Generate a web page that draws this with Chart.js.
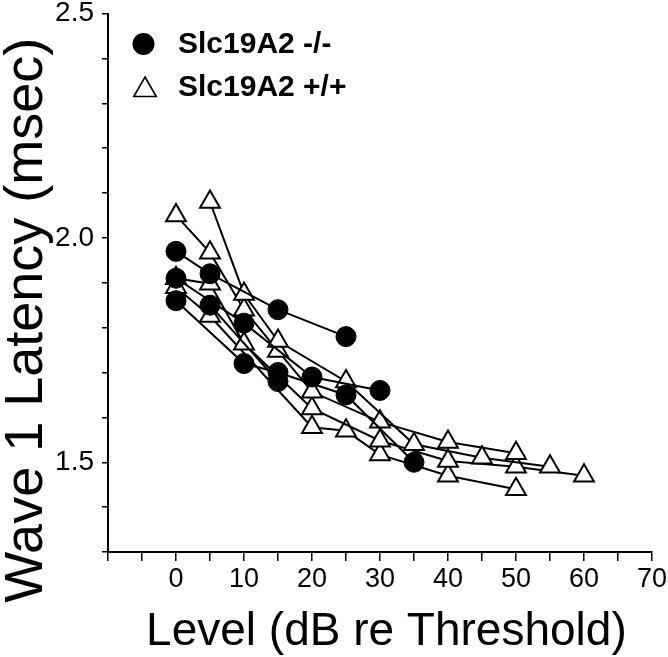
<!DOCTYPE html>
<html>
<head>
<meta charset="utf-8">
<script src="https://cdn.jsdelivr.net/npm/chart.js@4.4.1/dist/chart.umd.min.js"></script>
<style>
  html, body { margin: 0; padding: 0; background: #fff; overflow: hidden; }
  #wrap { width: 668px; height: 657px; position: relative; }
</style>
</head>
<body>
<div id="wrap"><canvas id="c"></canvas></div>
<script>
// ---- Data ----
const seriesLabels = ['Slc19A2 -/-', 'Slc19A2 +/+'];

// Slc19A2 -/- (filled circles), one line per animal
const koLevels1 = [0, 5, 15, 25];
const koLatency1 = [1.97, 1.92, 1.84, 1.78];
const koLevels2 = [0, 10, 20, 30];
const koLatency2 = [1.91, 1.81, 1.69, 1.66];
const koLevels3 = [0, 10, 15, 25, 35];
const koLatency3 = [1.86, 1.72, 1.70, 1.65, 1.50];
const koLevels4 = [5, 15];
const koLatency4 = [1.85, 1.68];

// Slc19A2 +/+ (open triangles), one line per animal
const wtLevels1 = [5, 10, 15, 25, 35, 45, 55];
const wtLatency1 = [2.08, 1.875, 1.77, 1.68, 1.54, 1.51, 1.49];
const wtLevels2 = [0, 5, 10, 15, 20, 30, 40, 50];
const wtLatency2 = [2.05, 1.967, 1.84, 1.748, 1.657, 1.59, 1.545, 1.52];
const wtLevels3 = [0, 5, 10, 20, 30, 40, 50, 60];
const wtLatency3 = [1.91, 1.898, 1.764, 1.62, 1.548, 1.503, 1.49, 1.47];
const wtLevels4 = [0, 5, 20, 25, 30, 40, 50];
const wtLatency4 = [1.89, 1.826, 1.578, 1.57, 1.517, 1.47, 1.44];

// Axis text
const xTitle = 'Level (dB re Threshold)';
const yTitle = 'Wave 1 Latency (msec)';
const xTickLabels = ['0', '10', '20', '30', '40', '50', '60', '70'];
const yTickLabels = ['1.5', '2.0', '2.5'];

// ---- Build datasets ----
function pts(xs, ys) { return xs.map((x, i) => ({ x: x, y: ys[i] })); }

const koSets = [
  [koLevels1, koLatency1], [koLevels2, koLatency2],
  [koLevels3, koLatency3], [koLevels4, koLatency4]
];
const wtSets = [
  [wtLevels1, wtLatency1], [wtLevels2, wtLatency2],
  [wtLevels3, wtLatency3], [wtLevels4, wtLatency4]
];

const datasets = [];
koSets.forEach(([xs, ys]) => datasets.push({
  label: seriesLabels[0],
  data: pts(xs, ys),
  showLine: true,
  borderColor: '#000',
  borderWidth: 2,
  pointStyle: 'circle',
  pointRadius: 10,
  pointHoverRadius: 10,
  pointBackgroundColor: '#000',
  pointBorderColor: '#000',
  pointBorderWidth: 1,
  fill: false
}));
wtSets.forEach(([xs, ys]) => datasets.push({
  label: seriesLabels[1],
  data: pts(xs, ys),
  showLine: true,
  borderColor: '#000',
  borderWidth: 2,
  pointStyle: 'triangle',
  pointRadius: 11.5,
  pointHoverRadius: 11.5,
  pointBackgroundColor: '#fff',
  pointBorderColor: '#000',
  pointBorderWidth: 2,
  fill: false
}));

// ---- Custom legend drawn in the upper-left of the plot ----
const legendPlugin = {
  id: 'cornerLegend',
  afterDraw(chart) {
    const ctx = chart.ctx;
    ctx.save();
    // filled circle
    ctx.beginPath();
    ctx.arc(143.5, 44, 11, 0, Math.PI * 2);
    ctx.fillStyle = '#000';
    ctx.fill();
    // open triangle
    const cx = 145, cy = 90, r = 13;
    ctx.beginPath();
    for (let k = 0; k < 3; k++) {
      const a = k * 2 * Math.PI / 3;
      const px = cx + Math.sin(a) * r, py = cy - Math.cos(a) * r;
      if (k === 0) ctx.moveTo(px, py); else ctx.lineTo(px, py);
    }
    ctx.closePath();
    ctx.fillStyle = '#fff';
    ctx.fill();
    ctx.lineWidth = 1.6;
    ctx.strokeStyle = '#000';
    ctx.stroke();
    // labels
    ctx.fillStyle = '#000';
    ctx.font = 'bold 30px "Liberation Sans", Arial, sans-serif';
    ctx.textBaseline = 'middle';
    ctx.textAlign = 'left';
    ctx.fillText(seriesLabels[0], 178, 45);
    ctx.fillText(seriesLabels[1], 178, 88);
    ctx.restore();
  }
};

const FONT = '"Liberation Sans", Arial, Helvetica, sans-serif';

function zeroPad(s) { s.paddingTop = 0; s.paddingBottom = 0; s.paddingLeft = 0; s.paddingRight = 0; }

new Chart(document.getElementById('c'), {
  type: 'scatter',
  data: { datasets: datasets },
  plugins: [legendPlugin],
  options: {
    responsive: true,
    maintainAspectRatio: false,
    animation: false,
    layout: { padding: { top: 12, right: 16, left: 0, bottom: 0 } },
    plugins: {
      legend: { display: false },
      tooltip: { enabled: false }
    },
    scales: {
      x: {
        type: 'linear',
        min: -10, max: 70,
        border: { display: true, color: '#000', width: 2 },
        grid: { display: true, drawOnChartArea: false, drawTicks: true, tickLength: 9, color: '#000', lineWidth: 1.5 },
        ticks: {
          stepSize: 5,
          autoSkip: false,
          maxRotation: 0,
          padding: 2,
          color: '#000',
          font: { family: FONT, size: 27 },
          callback: (v) => {
            const s = String(Math.round(v));
            return (Math.round(v) % 10 === 0 && xTickLabels.includes(s)) ? s : '';
          }
        },
        title: {
          display: true,
          text: ' ' + xTitle,
          color: '#000',
          font: { family: FONT, size: 46, lineHeight: 1.0 },
          padding: { top: 0, bottom: 2 }
        },
        afterFit: (s) => { s.height = 105; zeroPad(s); }
      },
      y: {
        type: 'linear',
        min: 1.3, max: 2.5,
        border: { display: true, color: '#000', width: 2 },
        grid: { display: true, drawOnChartArea: false, drawTicks: true, tickLength: 6, color: '#000', lineWidth: 1.5 },
        ticks: {
          stepSize: 0.1,
          autoSkip: false,
          padding: 8,
          color: '#000',
          font: { family: FONT, size: 28 },
          callback: (v) => {
            const s = (Math.round(v * 10) / 10).toFixed(1);
            return yTickLabels.includes(s) ? s : '';
          }
        },
        title: {
          display: true,
          text: yTitle + '     ',
          color: '#000',
          font: { family: FONT, size: 54, lineHeight: 1.0 },
          padding: { top: 0, bottom: 0 }
        },
        afterFit: (s) => { s.width = 108; zeroPad(s); }
      }
    }
  }
});
</script>
</body>
</html>
